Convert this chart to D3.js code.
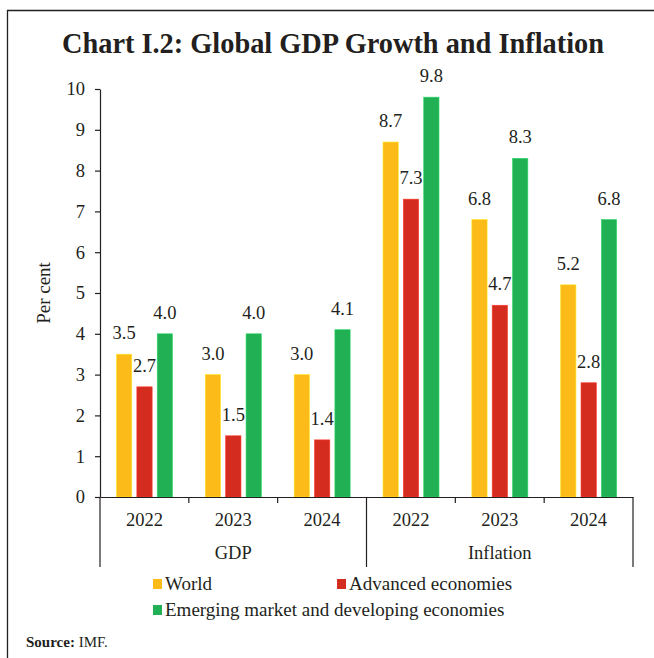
<!DOCTYPE html>
<html>
<head>
<meta charset="utf-8">
<script src="https://cdn.jsdelivr.net/npm/d3@7"></script>
<style>
  body { margin: 0; background: #fff; }
  svg text { font-family: "Liberation Serif", "DejaVu Serif", serif; fill: #231f20; }
</style>
</head>
<body>
<svg id="chart" width="654" height="658"></svg>
<script>
// data
const groups = ["GDP", "Inflation"];
const years = ["2022", "2023", "2024"];
const seriesNames = ["World", "Advanced economies", "Emerging market and developing economies"];
const world = [3.5, 3.0, 3.0, 8.7, 6.8, 5.2];
const advanced = [2.7, 1.5, 1.4, 7.3, 4.7, 2.8];
const emerging = [4.0, 4.0, 4.1, 9.8, 8.3, 6.8];
const yTicks = [0, 1, 2, 3, 4, 5, 6, 7, 8, 9, 10];
const colors = ["#fcbb19", "#d42d20", "#21b053"];

const svg = d3.select("#chart");
const plotLeft = 100, plotRight = 633, plotTop = 89, plotBottom = 497;
const fs = "18.5px";

// frame (left + top rule)
svg.append("path")
    .attr("d", "M7.5,658V10.5H654")
    .attr("fill", "none")
    .attr("stroke", "#231f20")
    .attr("stroke-width", 1.3);

// title
svg.append("text")
    .attr("x", 62).attr("y", 53)
    .attr("textLength", 542)
    .attr("lengthAdjust", "spacingAndGlyphs")
    .style("font-size", "29px")
    .style("font-weight", "bold")
    .text("Chart I.2: Global GDP Growth and Inflation");

// categories = group x year
const cats = [];
groups.forEach(g => years.forEach(y => cats.push(g + "|" + y)));

const x = d3.scaleBand().domain(cats).range([plotLeft, plotRight]).padding(0);
const xs = d3.scaleBand().domain([0, 1, 2])
    .range([16.5, 72.5]).paddingInner(0.25).paddingOuter(0);
const y = d3.scaleLinear().domain([0, 10]).range([plotBottom, plotTop]);

// y axis
const yAxis = svg.append("g")
    .attr("transform", `translate(${plotLeft},0)`)
    .call(d3.axisLeft(y).tickValues(yTicks).tickSize(5).tickSizeOuter(0).tickPadding(10));
yAxis.selectAll("text").style("font-size", fs).style("font-family", "Liberation Serif, serif").attr("fill", "#231f20");
yAxis.selectAll("line,path").attr("stroke", "#231f20").attr("stroke-width", 1.2);

svg.append("text")
    .attr("transform", "translate(50,293) rotate(-90)")
    .attr("text-anchor", "middle")
    .style("font-size", "19px")
    .text("Per cent");

// bars
const allSeries = [world, advanced, emerging];
allSeries.forEach((vals, si) => {
    const g = svg.append("g");
    g.selectAll("rect")
        .data(vals)
        .enter()
        .append("rect")
        .attr("x", (d, i) => x(cats[i]) + xs(si))
        .attr("y", d => y(d))
        .attr("width", xs.bandwidth())
        .attr("height", d => y(0) - y(d))
        .attr("fill", colors[si])
        .attr("stroke", d3.color(colors[si]).brighter(0.6))
        .attr("stroke-width", 0.6);

    g.selectAll("text")
        .data(vals)
        .enter()
        .append("text")
        .attr("x", (d, i) => x(cats[i]) + xs(si) + xs.bandwidth() / 2)
        .attr("y", d => y(d) - 15)
        .attr("text-anchor", "middle")
        .style("font-size", fs)
        .text(d => d.toFixed(1));
});

// x axis (multi-level)
const xAxis = svg.append("g")
    .attr("transform", `translate(0,${plotBottom})`)
    .call(d3.axisBottom(x).tickSize(0).tickSizeOuter(0).tickPadding(16).tickFormat(d => d.split("|")[1]));
xAxis.select(".domain").attr("stroke", "#231f20").attr("stroke-width", 1.2);
xAxis.selectAll("text").style("font-size", fs).style("font-family", "Liberation Serif, serif").attr("fill", "#231f20");

// boundary ticks between years
const bounds = cats.map(c => x(c)).concat([plotRight]);
svg.append("g").selectAll("line")
    .data(bounds)
    .enter()
    .append("line")
    .attr("x1", d => d).attr("x2", d => d)
    .attr("y1", plotBottom)
    .attr("y2", (d, i) => (i % years.length === 0) ? 567 : plotBottom + 6)
    .attr("stroke", "#231f20")
    .attr("stroke-width", 1.2);

// group labels
svg.append("g").selectAll("text")
    .data(groups)
    .enter()
    .append("text")
    .attr("x", (g, gi) => {
        const a = x(cats[gi * years.length]);
        const b = x(cats[gi * years.length + years.length - 1]) + x.bandwidth();
        return (a + b) / 2;
    })
    .attr("y", 559)
    .attr("text-anchor", "middle")
    .style("font-size", fs)
    .text(d => d);

// legend
const legendPos = [[153, 590], [337, 590], [153, 616]];
const legend = svg.append("g").selectAll("g")
    .data(seriesNames)
    .enter()
    .append("g")
    .attr("transform", (d, i) => `translate(${legendPos[i][0]},${legendPos[i][1]})`);
legend.append("rect")
    .attr("x", 0).attr("y", -11)
    .attr("width", 9).attr("height", 10)
    .attr("fill", (d, i) => colors[i]);
legend.append("text")
    .attr("x", 12).attr("y", 0)
    .style("font-size", "19px")
    .text(d => d);

// source
const src = svg.append("text").attr("x", 26).attr("y", 647).style("font-size", "15px");
src.append("tspan").style("font-weight", "bold").text("Source:");
src.append("tspan").text(" IMF.");
</script>
</body>
</html>
